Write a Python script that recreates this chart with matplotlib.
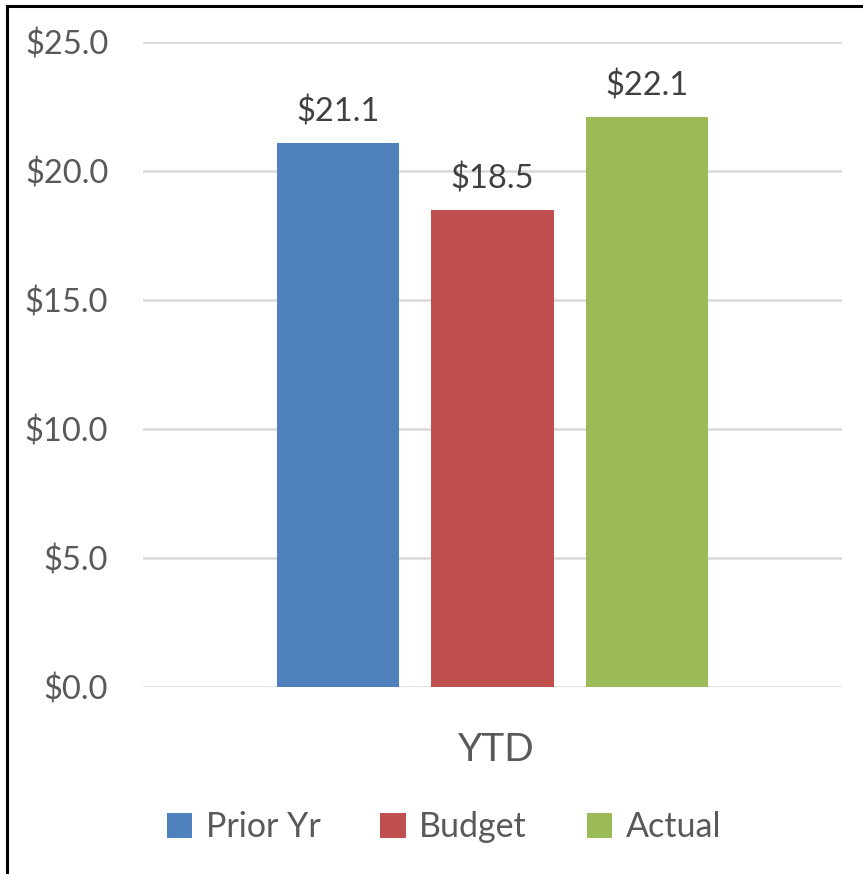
import numpy as np
import matplotlib
matplotlib.use("Agg")
import matplotlib.pyplot as plt
from matplotlib.lines import Line2D
from matplotlib.patches import Patch

plt.rcParams['font.family'] = ['Lato', 'DejaVu Sans']

# data
series = ["Prior Yr", "Budget", "Actual"]
values = [21.1, 18.5, 22.1]
colors = ["#4f81bd", "#c0504d", "#9bbb59"]
category = "YTD"
yticks = [0, 5, 10, 15, 20, 25]

fig = plt.figure(figsize=(8.63, 8.74), dpi=100)
ax = fig.add_axes([0.1657, 0.2140, 0.81, 0.738])

x = np.arange(len(series)) - 1
bars = ax.bar(x, values, width=0.79, color=colors, zorder=3)

for b, v in zip(bars, values):
    ax.text(b.get_x() + b.get_width() / 2, v + 0.6, f"${v:.1f}",
            ha='center', va='bottom', fontsize=23.5, color='#404040')

ax.set_xlim(-2.262, 2.262)
ax.set_ylim(0, 25)
ax.set_yticks(yticks)
ax.set_yticklabels([f"${t:.1f}" for t in yticks], fontsize=23.5, color='#595959')
ax.set_xticks([])
ax.tick_params(axis='y', length=0, pad=25)
ax.grid(axis='y', color='#d9d9d9', linewidth=1.8, zorder=0)
for s in ax.spines.values():
    s.set_visible(False)

fig.text(496 / 863, 1 - 750 / 874, category, ha='center', va='center',
         fontsize=28, color='#595959')

handles = [Patch(facecolor=c, label=s) for c, s in zip(colors, series)]
fig.legend(handles=handles, loc='center', bbox_to_anchor=(444 / 863, 1 - 827 / 874),
           ncol=3, frameon=False, fontsize=24.5, handlelength=0.75, handleheight=0.75,
           handletextpad=0.4, columnspacing=1.75, labelcolor='#595959')

# chart border (top and left only visible)
fig.add_artist(Line2D([6.5 / 863, 1], [1 - 5.5 / 874] * 2, color='black', linewidth=2.2))
fig.add_artist(Line2D([6.5 / 863] * 2, [0, 1 - 5.5 / 874], color='black', linewidth=2.2))

fig.savefig("out.png", dpi=100)
